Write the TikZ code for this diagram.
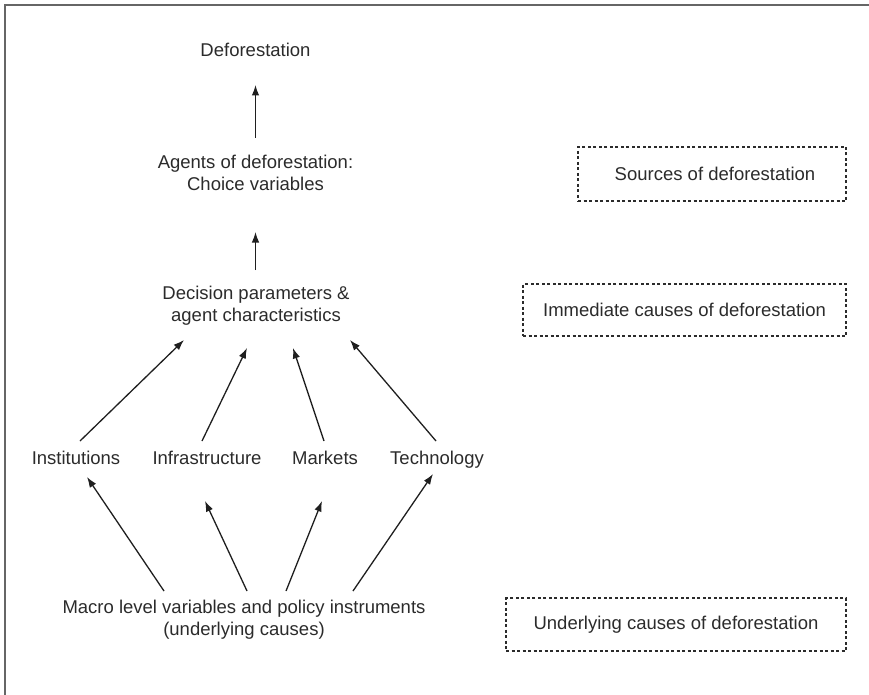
\documentclass[tikz,border=0pt]{standalone}
\usepackage{fontspec}
\setmainfont{Liberation Sans}
\usetikzlibrary{arrows.meta}
\definecolor{txt}{HTML}{2B2B2B}
\definecolor{frame}{HTML}{666666}
\begin{document}
\begin{tikzpicture}[x=1pt,y=-1pt,
  lbl/.style={font=\fontsize{18.5}{22}\selectfont, text=txt, align=center, inner sep=0pt},
  one/.style={lbl, text height=13.3pt, text depth=0pt},
  srcbox/.style={lbl, draw=txt, line width=1.1pt, dash pattern=on 3pt off 2.5pt},
  arr/.style={line width=1.3pt, draw=black!88, -{Latex[length=10.5pt,width=7.5pt]}}]
\useasboundingbox (0,0) rectangle (869,695);
\draw[frame, line width=1.6pt] (5,695) -- (5,5) -- (869,5);

\node[one] (def) at (255.5,50) {Deforestation};
\node[lbl] (agents) at (255.5,173) {Agents of deforestation:\\Choice variables};
\node[lbl] (dec) at (256,306) {Decision parameters \&\\agent characteristics};
\node[one] (inst) at (76,458) {Institutions};
\node[one] (infra) at (207,458) {Infrastructure};
\node[one] (mkt) at (325,458) {Markets};
\node[one] (tech) at (437,458) {Technology};
\node[lbl] (macro) at (244,620) {Macro level variables and policy instruments\\(underlying causes)};

\node[srcbox, minimum width=268pt, minimum height=54pt] (src) at (712,174) {\hspace*{6pt}Sources of deforestation};
\node[srcbox, minimum width=323pt, minimum height=52pt] (imm) at (684.5,310) {Immediate causes of deforestation};
\node[srcbox, minimum width=340pt, minimum height=53pt] (und) at (676,624.5) {Underlying causes of deforestation};

\draw[arr] ([shift={(0,-35)}]agents.center) -- ([shift={(0,35)}]def.center);
\draw[arr] ([shift={(-0.5,-36)}]dec.center) -- ([shift={(0,59)}]agents.center);

\draw[arr] ([shift={(4,-17)}]inst.center) -- ([shift={(-72,34)}]dec.center);
\draw[arr] ([shift={(-5,-17)}]infra.center) -- ([shift={(-9,42)}]dec.center);
\draw[arr] ([shift={(-1,-17)}]mkt.center) -- ([shift={(37,42)}]dec.center);
\draw[arr] ([shift={(-1,-17)}]tech.center) -- ([shift={(94,34)}]dec.center);

\draw[arr] ([shift={(-80,-29)}]macro.center) -- ([shift={(11,19)}]inst.center);
\draw[arr] ([shift={(3,-29)}]macro.center) -- ([shift={(-2,43)}]infra.center);
\draw[arr] ([shift={(42,-29)}]macro.center) -- ([shift={(-3,43)}]mkt.center);
\draw[arr] ([shift={(109,-29)}]macro.center) -- ([shift={(-4,16)}]tech.center);
\end{tikzpicture}
\end{document}
